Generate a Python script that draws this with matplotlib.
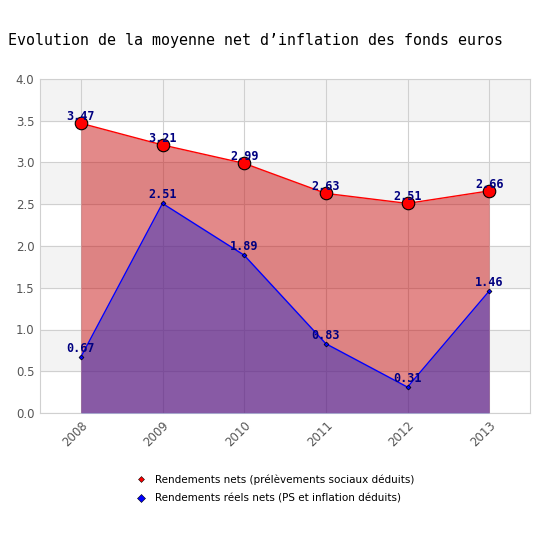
import matplotlib.pyplot as plt
from matplotlib.lines import Line2D

years = [2008, 2009, 2010, 2011, 2012, 2013]
rendements_nets = [3.47, 3.21, 2.99, 2.63, 2.51, 2.66]
rendements_reels = [0.67, 2.51, 1.89, 0.83, 0.31, 1.46]
labels = [
    "Rendements nets (prélèvements sociaux déduits)",
    "Rendements réels nets (PS et inflation déduits)",
]

fig = plt.figure(figsize=(5.5, 5.5), dpi=100)
ax = fig.add_axes([40 / 550, 137 / 550, 490 / 550, 334 / 550])

# alternating background bands
for lo in [0.5, 1.5, 2.5, 3.5]:
    ax.axhspan(lo, lo + 0.5, color="#f3f3f3", zorder=0)

ax.set_xlim(2007.5, 2013.5)
ax.set_ylim(0, 4.0)
ax.set_xticks(years)
ax.set_yticks([0, 0.5, 1.0, 1.5, 2.0, 2.5, 3.0, 3.5, 4.0])
ax.set_yticklabels([f"{v:.1f}" for v in ax.get_yticks()])
ax.grid(True, color="#d0d0d0", linewidth=0.8, zorder=1)
ax.set_axisbelow(True)
for s in ax.spines.values():
    s.set_color("#d0d0d0")
ax.tick_params(length=0, colors="#555555", labelsize=8.5, pad=4)
plt.setp(ax.get_xticklabels(), rotation=45, ha="right", rotation_mode="anchor")

ax.fill_between(years, rendements_nets, color="#c81414", alpha=0.5, linewidth=0, zorder=2)
ax.fill_between(years, rendements_reels, color="#2e2dc1", alpha=0.5, linewidth=0, zorder=3)
ax.plot(years, rendements_nets, color="red", linewidth=1, zorder=4,
        marker="o", markersize=9, markerfacecolor="red", markeredgecolor="black",
        markeredgewidth=0.8)
ax.plot(years, rendements_reels, color="blue", linewidth=1, zorder=4,
        marker="D", markersize=2.5, markerfacecolor="blue", markeredgecolor="black",
        markeredgewidth=0.5)

for x, v in zip(years, rendements_nets):
    ax.annotate(f"{v:.2f}", (x, v), xytext=(0, 0), textcoords="offset points",
                ha="center", va="bottom", color="#000080", fontsize=8.5,
                fontweight="bold", family="DejaVu Sans Mono", zorder=5)
for x, v in zip(years, rendements_reels):
    ax.annotate(f"{v:.2f}", (x, v), xytext=(0, 1.5), textcoords="offset points",
                ha="center", va="bottom", color="#000080", fontsize=8.5,
                fontweight="bold", family="DejaVu Sans Mono", zorder=5)

fig.text(8 / 550, 1 - 40 / 550, "Evolution de la moyenne net d\u2019inflation des fonds euros",
         family="DejaVu Sans Mono", fontsize=10.8, va="center", ha="left")

handles = [
    Line2D([], [], linestyle="none", marker="D", markersize=3,
           markerfacecolor="red", markeredgecolor="black", markeredgewidth=0.4),
    Line2D([], [], linestyle="none", marker="D", markersize=4,
           markerfacecolor="blue", markeredgecolor="black", markeredgewidth=0.4),
]
fig.legend(handles, labels, loc="center", bbox_to_anchor=(275 / 550, 1 - 489 / 550),
           frameon=False, fontsize=7.5, handlelength=1, handletextpad=0.8,
           labelspacing=0.8)

fig.savefig("out.png", dpi=100)
